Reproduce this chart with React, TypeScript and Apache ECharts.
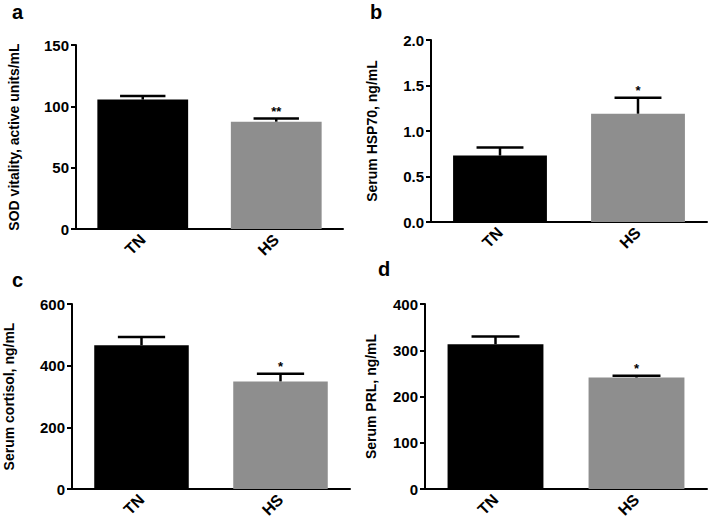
import React, { useEffect, useRef } from "react";
import * as echarts from "echarts";

const categories = ["TN", "HS"];
const panelLetters = ["a", "b", "c", "d"];
const yTitles = [
  "SOD vitality, active units/mL",
  "Serum HSP70, ng/mL",
  "Serum cortisol, ng/mL",
  "Serum PRL, ng/mL",
];
const sodMeans = [105.5, 87.5];
const sodErr = [3, 2.5];
const hspMeans = [0.73, 1.19];
const hspErr = [0.09, 0.175];
const cortisolMeans = [466, 349];
const cortisolErr = [27, 25];
const prlMeans = [313, 241];
const prlErr = [17, 4];
const significance = [
  ["", "**"],
  ["", "*"],
  ["", "*"],
  ["", "*"],
];
const yMaxes = [150, 2.0, 600, 400];
const yIntervals = [50, 0.5, 200, 100];
const yDecimals = [0, 1, 0, 0];

const barColors = ["#000000", "#8e8e8e"];

export default function App() {
  const ref = useRef<HTMLDivElement>(null);
  useEffect(() => {
    if (!ref.current) return;
    const chart = echarts.init(ref.current, null, { renderer: "svg" });
    const means = [sodMeans, hspMeans, cortisolMeans, prlMeans];
    const errs = [sodErr, hspErr, cortisolErr, prlErr];
    const grids = [
      { left: 76, top: 45, width: 267, height: 184 },
      { left: 431, top: 40, width: 276, height: 182 },
      { left: 72, top: 304, width: 278, height: 185 },
      { left: 425, top: 304, width: 282, height: 185 },
    ];
    const nameGaps = [55, 52, 56, 47];
    const letterPos = [
      [12, 2],
      [370, 2],
      [12, 270],
      [378, 259],
    ];
    const font = "Liberation Sans, Arial, sans-serif";
    const xAxes = grids.map((_, i) => ({
      type: "category",
      gridIndex: i,
      data: categories,
      axisLine: { lineStyle: { color: "#000", width: 2 } },
      axisTick: { alignWithLabel: true, length: 5, lineStyle: { color: "#000", width: 2 } },
      axisLabel: {
        rotate: 45,
        color: "#000",
        fontWeight: "bold",
        fontSize: 16,
        fontFamily: font,
        margin: 8,
      },
    }));
    const yAxes = grids.map((_, i) => ({
      type: "value",
      gridIndex: i,
      min: 0,
      max: yMaxes[i],
      interval: yIntervals[i],
      name: yTitles[i],
      nameLocation: "middle",
      nameGap: nameGaps[i],
      nameTextStyle: { color: "#000", fontWeight: "bold", fontSize: 14, fontFamily: font },
      splitLine: { show: false },
      axisLine: { show: true, lineStyle: { color: "#000", width: 2 } },
      axisTick: { show: true, length: 5, lineStyle: { color: "#000", width: 2 } },
      axisLabel: {
        color: "#000",
        fontWeight: "bold",
        fontSize: 15,
        fontFamily: font,
        margin: 7,
        formatter: (v: number) => v.toFixed(yDecimals[i]),
      },
    }));
    const series: any[] = [];
    grids.forEach((_, i) => {
      series.push({
        type: "bar",
        xAxisIndex: i,
        yAxisIndex: i,
        barWidth: "68%",
        z: 1,
        data: means[i].map((v, j) => ({ value: v, itemStyle: { color: barColors[j] } })),
      });
      series.push({
        type: "custom",
        xAxisIndex: i,
        yAxisIndex: i,
        z: 3,
        data: means[i].map((v, j) => [j, v, v + errs[i][j]]),
        renderItem: (params: any, api: any) => {
          const idx = api.value(0);
          const base = api.coord([idx, api.value(1)]);
          const top = api.coord([idx, api.value(2)]);
          const band = api.size([1, 0])[0];
          const half = (band * 0.68) / 4;
          const star = significance[i][params.dataIndex];
          const children: any[] = [
            {
              type: "line",
              shape: { x1: base[0], y1: base[1], x2: top[0], y2: top[1] },
              style: { stroke: "#000", lineWidth: 2.5 },
            },
            {
              type: "line",
              shape: { x1: top[0] - half, y1: top[1], x2: top[0] + half, y2: top[1] },
              style: { stroke: "#000", lineWidth: 2.5 },
            },
          ];
          if (star) {
            children.push({
              type: "text",
              style: {
                text: star,
                x: top[0],
                y: top[1] - 1,
                align: "center",
                verticalAlign: "bottom",
                fill: "#000",
                font: "bold 13px " + font,
              },
            });
          }
          return { type: "group", children };
        },
      });
    });
    chart.setOption({
      animation: false,
      backgroundColor: "#fff",
      grid: grids,
      xAxis: xAxes,
      yAxis: yAxes,
      series,
      graphic: panelLetters.map((l, i) => ({
        type: "text",
        left: letterPos[i][0],
        top: letterPos[i][1],
        style: { text: l, fill: "#000", font: "bold 20px " + font },
      })),
    });
    return () => chart.dispose();
  }, []);
  return (
    <div
      ref={ref}
      style={{ position: "fixed", left: 0, top: 0, width: 709, height: 521 }}
    />
  );
}
